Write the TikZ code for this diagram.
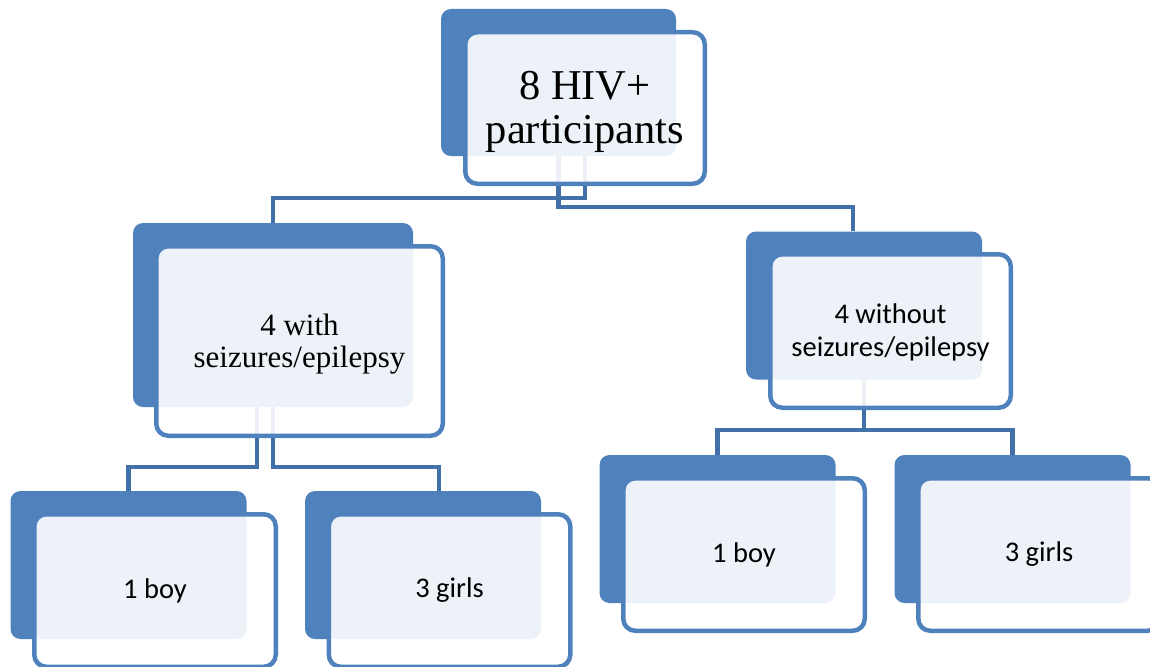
\documentclass[tikz,border=0pt]{standalone}
\usepackage{fontspec}
\setmainfont{Liberation Serif}
\newfontfamily\calibri{Carlito}
\usetikzlibrary{positioning, backgrounds}

\definecolor{boxblue}{RGB}{79,129,189}
\definecolor{linkblue}{RGB}{66,112,168}

\begin{document}
\begin{tikzpicture}[
        x=1pt, y=-1pt,
        front/.style={rectangle, draw=boxblue, line width=4.5pt, fill=white, fill opacity=0.9,
                      text opacity=1, rounded corners=12pt, align=center, inner sep=0pt},
        back/.style={rectangle, fill=boxblue, rounded corners=10pt, inner sep=0pt},
        rootbox/.style={front, minimum width=239.5pt, minimum height=151.5pt,
                        font=\fontsize{42.5}{44}\selectfont},
        leftbox/.style={front, minimum width=286.5pt, minimum height=189.5pt,
                        font=\fontsize{31}{32}\selectfont},
        rightbox/.style={front, minimum width=240.5pt, minimum height=153.5pt,
                        font=\calibri\fontsize{28.5}{33}\selectfont},
        leafbox/.style={front, minimum width=241.5pt, minimum height=152.5pt,
                        font=\calibri\fontsize{28.5}{33}\selectfont},
        link/.style={draw=linkblue, line width=4.5pt}
    ]
        \useasboundingbox (0,0) rectangle (1150,666);

        \node[rootbox] (root) at (585,108) {\rule{0pt}{37pt}8 HIV+\\participants};
        \node[leftbox] (withsz) at (299.5,341) {\rule{0pt}{27pt}4 with\\seizures/epilepsy};
        \node[rightbox] (withoutsz) at (890.5,331) {\rule{0pt}{23pt}4 without\\seizures/epilepsy};

        \node[leafbox] (boyleft) at (155,590.5) {1 boy};
        \node[leafbox] (girlsleft) at (449.5,590.5) {3 girls};
        \node[leafbox] (boyright) at (744,554.5) {1 boy};
        \node[leafbox] (girlsright) at (1039,554.5) {3 girls};

        \begin{scope}[on background layer]
            \node[back, minimum width=235pt, minimum height=147pt] (rootback) at ([shift={(-26.5,-25.5)}]root.center) {};
            \node[back, minimum width=280pt, minimum height=184pt] (withszback) at ([shift={(-26.5,-26)}]withsz.center) {};
            \node[back, minimum width=236pt, minimum height=148pt] (withoutszback) at ([shift={(-26.5,-25.5)}]withoutsz.center) {};
            \node[back, minimum width=236pt, minimum height=148pt] (boyleftback) at ([shift={(-26.5,-25.5)}]boyleft.center) {};
            \node[back, minimum width=236pt, minimum height=148pt] (girlsleftback) at ([shift={(-26.5,-25.5)}]girlsleft.center) {};
            \node[back, minimum width=236pt, minimum height=148pt] (boyrightback) at ([shift={(-26.5,-25.5)}]boyright.center) {};
            \node[back, minimum width=236pt, minimum height=148pt] (girlsrightback) at ([shift={(-26.5,-25.5)}]girlsright.center) {};

            \draw[link] (root.center |- rootback.south) -- ++(0,42) -| (withszback.north);
            \draw[link] (rootback.south) -- ++(0,51) -| ([xshift=-11pt]withoutszback.north);

            \draw[link] ([xshift=-16pt]withszback.south) -- ++(0,60) -| (boyleftback.north);
            \draw[link] (withszback.south) -- ++(0,60) -| ([xshift=16pt]girlsleftback.north);

            \draw[link] (withoutszback.south) -- ++(0,50.5) -| (boyrightback.north);
            \draw[link] (withoutszback.south) -- ++(0,50.5) -| (girlsrightback.north);
        \end{scope}
    \end{tikzpicture}
\end{document}
